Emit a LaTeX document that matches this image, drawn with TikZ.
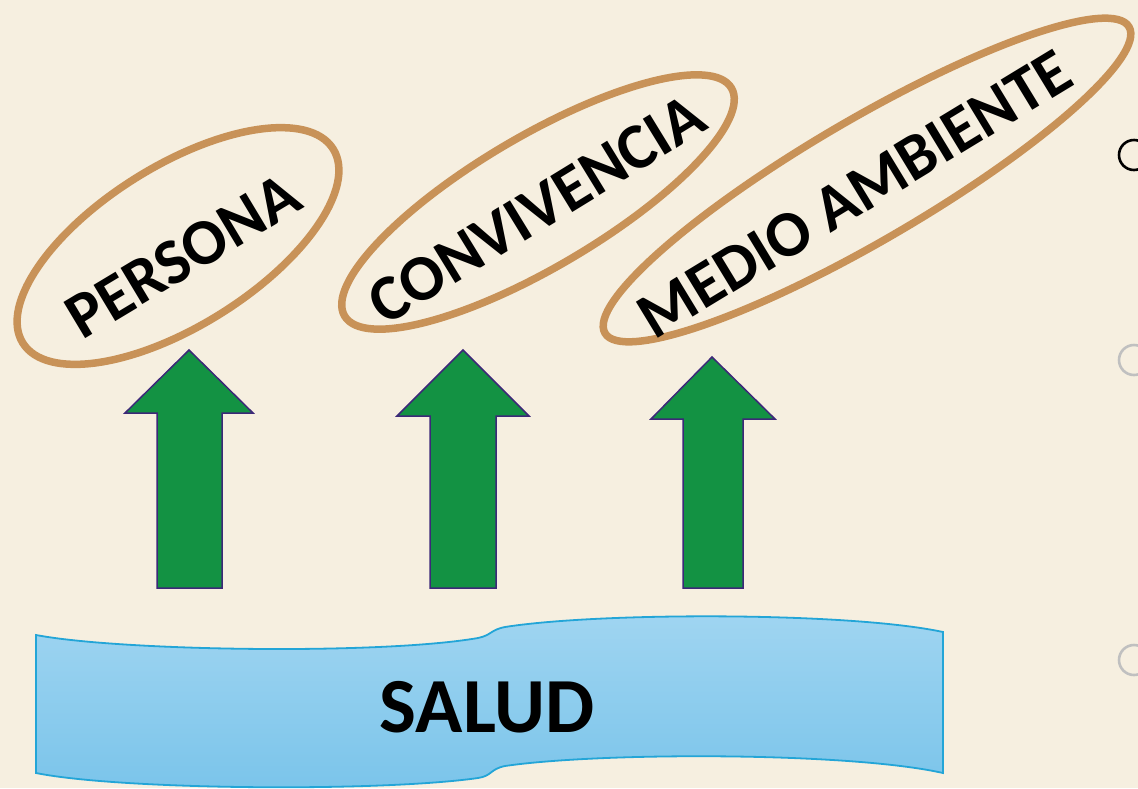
\documentclass[tikz,border=0pt]{standalone}
\usepackage{fontspec}
\setmainfont{Carlito}
\usetikzlibrary{shapes.geometric}
\definecolor{bgcream}{RGB}{246,239,224}
\definecolor{ringtan}{RGB}{200,146,88}
\definecolor{arrgreen}{RGB}{19,146,67}
\definecolor{arrline}{RGB}{60,40,120}
\definecolor{bantop}{RGB}{160,213,241}
\definecolor{banbot}{RGB}{122,196,234}
\definecolor{banline}{RGB}{35,165,215}
\definecolor{dotgray}{RGB}{192,192,192}
\tikzset{
  ring/.style={ellipse, draw=ringtan, line width=7.5pt, inner sep=0pt},
  ringtext/.style={font=\bfseries\fontsize{65}{67}\selectfont, inner sep=0pt},
  uparrow/.style={fill=arrgreen, draw=arrline, line width=1.5pt, line join=miter},
  banner/.style={top color=bantop, bottom color=banbot, draw=banline, line width=1.8pt},
  bullet/.style={draw, line width=2.6pt}
}
\begin{document}
\begin{tikzpicture}[x=1pt,y=-1pt]
\fill[bgcream] (0,0) rectangle (1138,788);
\useasboundingbox (0,0) rectangle (1138,788);
\clip (0,0) rectangle (1138,788);
% ellipses
\node[ring, minimum width=366pt, minimum height=160pt, rotate=32] (e1) at (178,246) {};
\node[ring, minimum width=449pt, minimum height=131pt, rotate=30.5] (e2) at (538,202) {};
\node[ring, minimum width=607pt, minimum height=121pt, rotate=30.3] (e3) at (867,180) {};
\node[ringtext, rotate=31] (t1) at (183,256) {PERSONA};
\node[ringtext, rotate=31.5] (t2) at (537,209) {CONVIVENCIA};
\node[ringtext, rotate=31.3] (t3) at (855,194) {MEDIO AMBIENTE};
% arrows
\draw[uparrow] (189,350) -- (253,413) -- (222,413) -- (222,588) -- (157,588) -- (157,413) -- (125,413) -- cycle;
\draw[uparrow] (463,350) -- (529,416) -- (496,416) -- (496,588) -- (430,588) -- (430,416) -- (397,416) -- cycle;
\draw[uparrow] (712,357) -- (775,419) -- (743,419) -- (743,588) -- (683,588) -- (683,419) -- (651,419) -- cycle;
% banner
\draw[banner] (36,635) .. controls (120,651) and (380,655) .. (478,638)
  .. controls (492,635) and (490,630) .. (505,627)
  .. controls (600,612) and (850,612) .. (943,632)
  -- (943,773)
  .. controls (850,752) and (600,752) .. (505,766)
  .. controls (490,769) and (492,776) .. (478,778)
  .. controls (380,792) and (120,790) .. (36,773) -- cycle;
\node[font=\bfseries\fontsize{78}{80}\selectfont, inner sep=0pt] (salud) at (487,707) {SALUD};
% right-edge bullets
\node[bullet, circle, minimum size=30pt, inner sep=0pt, draw=black] (b1) at (1134,155) {};
\node[bullet, circle, minimum size=30pt, inner sep=0pt, draw=dotgray] (b2) at (1134,360) {};
\node[bullet, circle, minimum size=30pt, inner sep=0pt, draw=dotgray] (b3) at (1134,660) {};
\end{tikzpicture}
\end{document}
